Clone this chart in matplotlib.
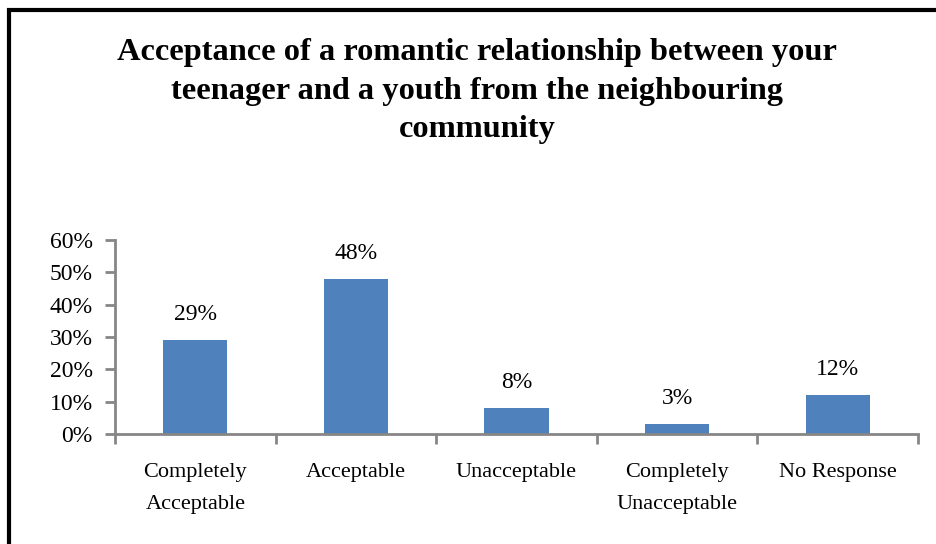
import matplotlib.pyplot as plt
from matplotlib.lines import Line2D
from matplotlib.ticker import PercentFormatter

# Survey responses
categories = ['Completely\nAcceptable', 'Acceptable', 'Unacceptable',
              'Completely\nUnacceptable', 'No Response']
percent = [29, 48, 8, 3, 12]
yticks = [0, 10, 20, 30, 40, 50, 60]

title = ('Acceptance of a romantic relationship between your\n'
         'teenager and a youth from the neighbouring\ncommunity')

plt.rcParams['font.family'] = ['Liberation Serif', 'DejaVu Serif']

W, H = 937, 544
fig = plt.figure(figsize=(W / 100, H / 100), dpi=100)
ax = fig.add_axes([115 / W, 1 - 434 / H, (918 - 115) / W, (434 - 240) / H])

bar_color = '#4F81BD'
axis_color = '#868686'

x = list(range(len(categories)))
bars = ax.bar(x, percent, width=0.4, color=bar_color, zorder=2)
for b, v in zip(bars, percent):
    ax.annotate('{}%'.format(v), (b.get_x() + b.get_width() / 2, v),
                xytext=(0, 11), textcoords='offset points',
                ha='center', va='bottom', fontsize=17)

ax.set_xlim(-0.5, len(categories) - 0.5)
ax.set_ylim(0, 60)
ax.set_yticks(yticks)
ax.yaxis.set_major_formatter(PercentFormatter(decimals=0))

# category labels sit between the boundary ticks
ax.set_xticks([i - 0.5 for i in range(len(categories) + 1)])
ax.set_xticklabels([])
ax.set_xticks(x, minor=True)
ax.set_xticklabels(categories, minor=True, fontsize=16, linespacing=1.9,
                   va='top')
ax.tick_params(axis='x', which='minor', length=0, pad=21)
ax.tick_params(axis='x', which='major', length=7, width=2, color=axis_color)
ax.tick_params(axis='y', length=7, width=2, color=axis_color,
               labelsize=17, pad=9)

for side in ['top', 'right']:
    ax.spines[side].set_visible(False)
for side in ['left', 'bottom']:
    ax.spines[side].set_color(axis_color)
    ax.spines[side].set_linewidth(2)

fig.text(477 / W, 1 - 91 / H, title, ha='center', va='center',
         fontsize=23.3, fontweight='bold', linespacing=1.44)

# frame lines along the top and left edge
fig.add_artist(Line2D([7 / W, 1], [1 - 10 / H, 1 - 10 / H],
                      transform=fig.transFigure, color='black', lw=3,
                      solid_capstyle='butt'))
fig.add_artist(Line2D([9 / W, 9 / W], [1 - 8 / H, 0],
                      transform=fig.transFigure, color='black', lw=3,
                      solid_capstyle='butt'))

fig.savefig('out.png', dpi=100)
